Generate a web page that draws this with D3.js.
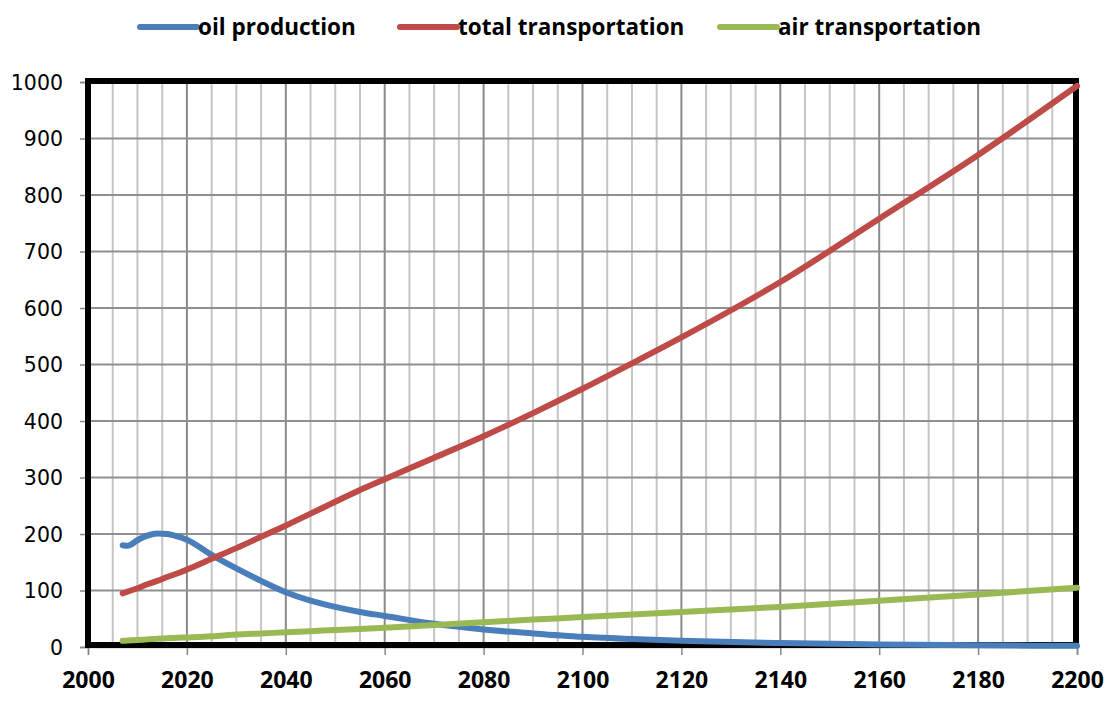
<!DOCTYPE html>
<html><head><meta charset="utf-8">
<script src="https://cdn.jsdelivr.net/npm/d3@7"></script>
<style>
body{margin:0;background:#fff;}
svg{display:block;}
</style></head>
<body>
<svg id="chart" width="1111" height="709"></svg>
<script>
const years = [2007, 2008, 2010, 2012, 2014, 2016, 2018, 2020, 2025, 2030, 2035, 2040, 2045, 2050, 2055, 2060, 2070, 2080, 2090, 2100, 2110, 2120, 2140, 2160, 2180, 2200];
const oilProduction = [180, 179, 189, 197, 201, 200, 196, 190, 163, 139, 117, 97, 82, 71, 62, 55, 41, 31, 24, 18, 14, 11, 7, 4.5, 3, 2];
const totalTransportation = [95, 98, 104, 111, 117, 124, 130, 137, 156, 175, 195, 215, 236, 257, 278, 297, 335, 373, 414, 457, 502, 548, 646, 758, 871, 993];
const airTransportation = [11, 11.5, 12.5, 13.5, 14.5, 15.5, 16.5, 17, 19, 22, 24, 26, 28, 30, 32, 34, 39, 44, 48.5, 53, 57.5, 62, 71, 82, 93, 105];
const seriesNames = ["oil production", "total transportation", "air transportation"];
const seriesColors = ["#4A7EBB", "#BE4B48", "#98B954"];
const xTicks = [2000, 2020, 2040, 2060, 2080, 2100, 2120, 2140, 2160, 2180, 2200];
const yTicks = [0, 100, 200, 300, 400, 500, 600, 700, 800, 900, 1000];

const svg = d3.select("#chart");
const L = 88, R = 1077, T = 82, B = 647;
const x = d3.scaleLinear().domain([2000, 2200]).range([L, R]);
const y = d3.scaleLinear().domain([0, 1000]).range([B, T]);

// vertical grid every 5 years
const minor = d3.range(2005, 2200, 5);
svg.append("g").selectAll("line").data(minor).join("line")
  .attr("x1", d => x(d)).attr("x2", d => x(d)).attr("y1", T).attr("y2", B)
  .attr("stroke", d => d % 20 === 0 ? "#8a8a8a" : "#c4c4c4")
  .attr("stroke-width", 2);
// horizontal grid
svg.append("g").selectAll("line").data(yTicks.slice(1)).join("line")
  .attr("x1", L).attr("x2", R).attr("y1", d => y(d)).attr("y2", d => y(d))
  .attr("stroke", "#8f8f8f").attr("stroke-width", 2);

// axes
const yAxis = svg.append("g").attr("transform", `translate(${L},0)`)
  .call(d3.axisLeft(y).tickValues(yTicks).tickSize(8).tickPadding(17).tickFormat(d3.format("d")));
yAxis.select(".domain").attr("stroke", "#888").attr("stroke-width", 1.5);
yAxis.selectAll(".tick line").attr("stroke", "#888").attr("stroke-width", 1.5);
yAxis.selectAll("text").attr("font-family", "DejaVu Sans").attr("font-size", 20.5).attr("fill", "#000").attr("dy", "0.36em");

const xAxis = svg.append("g").attr("transform", `translate(0,${B})`)
  .call(d3.axisBottom(x).tickValues(xTicks).tickSize(8).tickPadding(17).tickFormat(d3.format("d")));
xAxis.select(".domain").attr("stroke", "#888").attr("stroke-width", 1.5);
xAxis.selectAll(".tick line").attr("stroke", "#888").attr("stroke-width", 1.5);
xAxis.selectAll("text").attr("font-family", "Open Sans").attr("font-weight", 700).attr("font-size", 23).attr("fill", "#000");

// frame
svg.append("rect").attr("x", L).attr("y", T - 1).attr("width", R - L - 1).attr("height", B - T - 1)
  .attr("fill", "none").attr("stroke", "#000").attr("stroke-width", 6);

// lines
const allSeries = [oilProduction, totalTransportation, airTransportation];
const line = d3.line().x((d, i) => x(years[i])).y(d => y(d)).curve(d3.curveMonotoneX);
svg.append("g").selectAll("path").data(allSeries).join("path")
  .attr("d", d => line(d)).attr("fill", "none")
  .attr("stroke", (d, i) => seriesColors[i]).attr("stroke-width", 6)
  .attr("stroke-linecap", "round").attr("stroke-linejoin", "round");

// legend
const legendX = [140, 400, 720];
const lg = svg.append("g").selectAll("g").data(seriesNames).join("g")
  .attr("transform", (d, i) => `translate(${legendX[i]},27)`);
lg.append("line").attr("x1", 0).attr("x2", 57).attr("y1", 0).attr("y2", 0)
  .attr("stroke", (d, i) => seriesColors[i]).attr("stroke-width", 6).attr("stroke-linecap", "round");
lg.append("text").attr("x", 58).attr("y", 8).text(d => d)
  .attr("font-family", "Open Sans").attr("font-weight", 700).attr("font-size", 22.5).attr("fill", "#000");
</script>
</body></html>
